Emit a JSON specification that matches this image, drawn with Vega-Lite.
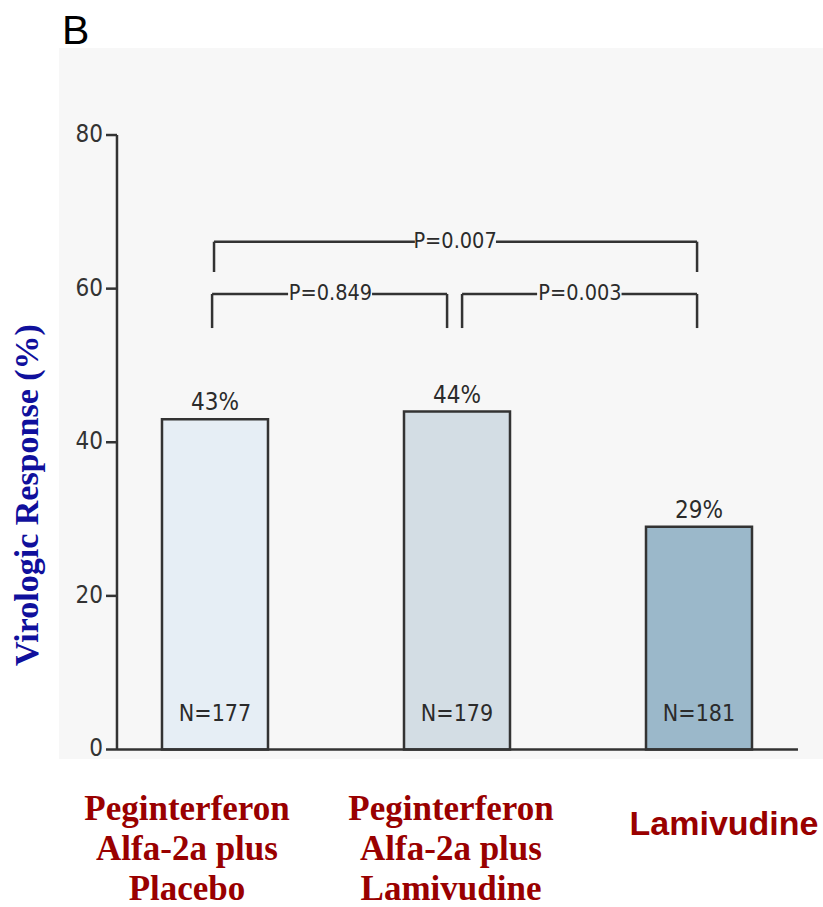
{
  "$schema": "https://vega.github.io/schema/vega-lite/v6.json",
  "autosize": {"type": "none"},
  "padding": {"left": 59, "top": 48, "right": 0, "bottom": 148},
  "width": 764,
  "height": 711,
  "background": "white",
  "config": {"view": {"fill": "#f7f7f7", "stroke": null}},
  "datasets": {
    "arms": [
      {"arm": 1, "group": "Peginterferon Alfa-2a plus Placebo", "response": 43, "pct": "43%", "n": "N=177"},
      {"arm": 2, "group": "Peginterferon Alfa-2a plus Lamivudine", "response": 44, "pct": "44%", "n": "N=179"},
      {"arm": 3, "group": "Lamivudine", "response": 29, "pct": "29%", "n": "N=181"}
    ],
    "ticks": [{"v": 0}, {"v": 20}, {"v": 40}, {"v": 60}, {"v": 80}],
    "segments": [
      {"x": 0.595, "x2": 0.595, "y": 0, "y2": 80},
      {"x": 0.595, "x2": 3.409, "y": 0, "y2": 0},
      {"x": 0.996, "x2": 0.996, "y": 62.17, "y2": 66.11},
      {"x": 0.996, "x2": 1.826, "y": 66.11, "y2": 66.11},
      {"x": 2.161, "x2": 2.992, "y": 66.11, "y2": 66.11},
      {"x": 2.992, "x2": 2.992, "y": 62.17, "y2": 66.11},
      {"x": 0.988, "x2": 0.988, "y": 54.87, "y2": 59.3},
      {"x": 0.988, "x2": 1.302, "y": 59.3, "y2": 59.3},
      {"x": 1.649, "x2": 1.959, "y": 59.3, "y2": 59.3},
      {"x": 1.959, "x2": 1.959, "y": 54.87, "y2": 59.3},
      {"x": 2.021, "x2": 2.021, "y": 54.87, "y2": 59.3},
      {"x": 2.021, "x2": 2.331, "y": 59.3, "y2": 59.3},
      {"x": 2.680, "x2": 2.992, "y": 59.3, "y2": 59.3},
      {"x": 2.992, "x2": 2.992, "y": 54.87, "y2": 59.3}
    ],
    "pvalues": [
      {"x": 1.992, "y": 66.11, "p": "P=0.007"},
      {"x": 1.477, "y": 59.3, "p": "P=0.849"},
      {"x": 2.508, "y": 59.3, "p": "P=0.003"}
    ],
    "groups": [
      {"arm": 1, "name": "Peginterferon\nAlfa-2a plus\nPlacebo"},
      {"arm": 2, "name": "Peginterferon\nAlfa-2a plus\nLamivudine"},
      {"arm": 3, "name": "Lamivudine"}
    ],
    "labels": [
      {"panel": "B", "ytitle": "Virologic Response (%)"}
    ]
  },
  "layer": [
    {
      "data": {"name": "arms"},
      "mark": {"type": "bar", "orient": "vertical", "width": 106, "stroke": "#333333", "strokeWidth": 2.5},
      "encoding": {
        "x": {"field": "arm", "type": "quantitative", "scale": {"domain": [0.3554, 3.5124], "nice": false, "zero": false, "padding": 0}, "axis": null},
        "y": {"field": "response", "type": "quantitative", "scale": {"domain": [-1.237, 91.33], "nice": false, "zero": false, "padding": 0}, "axis": null},
        "y2": {"datum": 0},
        "color": {
          "field": "group",
          "type": "nominal",
          "scale": {
            "domain": ["Peginterferon Alfa-2a plus Placebo", "Peginterferon Alfa-2a plus Lamivudine", "Lamivudine"],
            "range": ["#e6eef5", "#d3dde4", "#9bb8ca"]
          },
          "legend": null
        }
      }
    },
    {
      "data": {"name": "segments"},
      "mark": {"type": "rule", "stroke": "#333333", "strokeWidth": 2.5},
      "encoding": {
        "x": {"field": "x", "type": "quantitative", "axis": null},
        "x2": {"field": "x2"},
        "y": {"field": "y", "type": "quantitative", "axis": null},
        "y2": {"field": "y2"}
      }
    },
    {
      "data": {"name": "ticks"},
      "mark": {"type": "rule", "stroke": "#333333", "strokeWidth": 2.5},
      "encoding": {
        "x": {"datum": 0.5496, "type": "quantitative", "axis": null},
        "x2": {"datum": 0.595},
        "y": {"field": "v", "type": "quantitative", "axis": null}
      }
    },
    {
      "data": {"name": "ticks"},
      "mark": {"type": "text", "font": "DejaVu Sans Condensed, sans-serif", "fontSize": 24, "color": "#333333", "align": "right", "baseline": "middle", "dx": -3},
      "encoding": {
        "x": {"datum": 0.5496, "type": "quantitative", "axis": null},
        "y": {"field": "v", "type": "quantitative", "axis": null},
        "text": {"field": "v"}
      }
    },
    {
      "data": {"name": "arms"},
      "mark": {"type": "text", "font": "DejaVu Sans Condensed, sans-serif", "fontSize": 24, "color": "#2b2b2b", "baseline": "alphabetic", "dy": -9},
      "encoding": {
        "x": {"field": "arm", "type": "quantitative", "axis": null},
        "y": {"field": "response", "type": "quantitative", "axis": null},
        "text": {"field": "pct"}
      }
    },
    {
      "data": {"name": "arms"},
      "mark": {"type": "text", "font": "DejaVu Sans Condensed, sans-serif", "fontSize": 23, "color": "#2b2b2b", "baseline": "alphabetic", "dy": -28},
      "encoding": {
        "x": {"field": "arm", "type": "quantitative", "axis": null},
        "y": {"datum": 0, "type": "quantitative", "axis": null},
        "text": {"field": "n"}
      }
    },
    {
      "data": {"name": "pvalues"},
      "mark": {"type": "text", "font": "DejaVu Sans Condensed, sans-serif", "fontSize": 21.5, "color": "#2b2b2b", "baseline": "middle"},
      "encoding": {
        "x": {"field": "x", "type": "quantitative", "axis": null},
        "y": {"field": "y", "type": "quantitative", "axis": null},
        "text": {"field": "p"}
      }
    },
    {
      "data": {"name": "groups"},
      "transform": [{"filter": "datum.arm == 1"}],
      "mark": {"type": "text", "font": "Liberation Serif, Times New Roman, serif", "fontSize": 35, "fontWeight": "bold", "color": "#990000", "baseline": "alphabetic", "lineBreak": "\n", "lineHeight": 40, "dx": -28, "dy": 70.5},
      "encoding": {
        "x": {"field": "arm", "type": "quantitative", "axis": null},
        "y": {"datum": 0, "type": "quantitative", "axis": null},
        "text": {"field": "name"}
      }
    },
    {
      "data": {"name": "groups"},
      "transform": [{"filter": "datum.arm == 2"}],
      "mark": {"type": "text", "font": "Liberation Serif, Times New Roman, serif", "fontSize": 35, "fontWeight": "bold", "color": "#990000", "baseline": "alphabetic", "lineBreak": "\n", "lineHeight": 40, "dx": -6, "dy": 70.5},
      "encoding": {
        "x": {"field": "arm", "type": "quantitative", "axis": null},
        "y": {"datum": 0, "type": "quantitative", "axis": null},
        "text": {"field": "name"}
      }
    },
    {
      "data": {"name": "groups"},
      "transform": [{"filter": "datum.arm == 3"}],
      "mark": {"type": "text", "font": "Liberation Sans, Arial, sans-serif", "fontSize": 34, "fontWeight": "bold", "color": "#990000", "baseline": "alphabetic", "dx": 25, "dy": 86},
      "encoding": {
        "x": {"field": "arm", "type": "quantitative", "axis": null},
        "y": {"datum": 0, "type": "quantitative", "axis": null},
        "text": {"field": "name"}
      }
    },
    {
      "data": {"name": "labels"},
      "mark": {"type": "text", "font": "Liberation Serif, Times New Roman, serif", "fontSize": 34, "fontWeight": "bold", "color": "#10109c", "angle": 270, "align": "center", "baseline": "middle"},
      "encoding": {
        "x": {"datum": 0.2273, "type": "quantitative", "axis": null},
        "y": {"datum": 33.13, "type": "quantitative", "axis": null},
        "text": {"field": "ytitle"}
      }
    },
    {
      "data": {"name": "labels"},
      "mark": {"type": "text", "font": "Liberation Sans, Arial, sans-serif", "fontSize": 41, "color": "#000000", "align": "left", "baseline": "alphabetic", "dx": 3, "dy": -4},
      "encoding": {
        "x": {"datum": 0.3554, "type": "quantitative", "axis": null},
        "y": {"datum": 91.33, "type": "quantitative", "axis": null},
        "text": {"field": "panel"}
      }
    }
  ]
}
